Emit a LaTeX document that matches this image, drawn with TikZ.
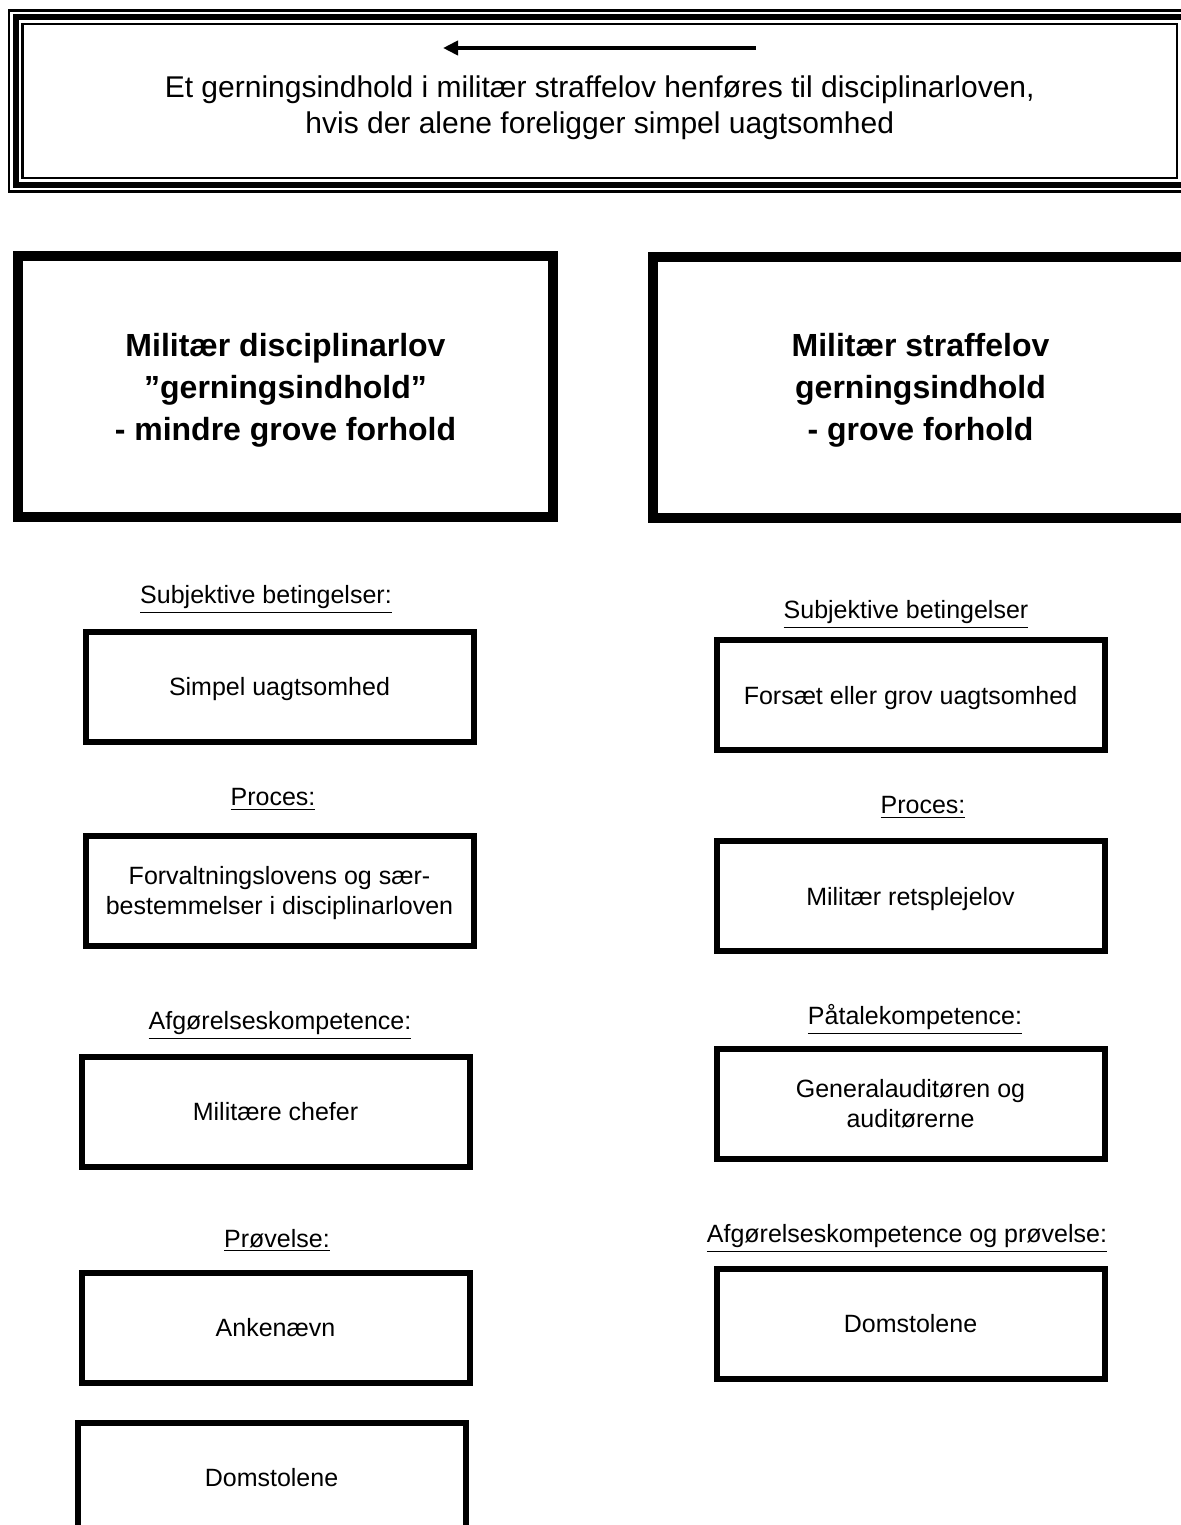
\documentclass[tikz,border=0pt]{standalone}
\usepackage{fontspec}
\setmainfont{Liberation Sans}
\usetikzlibrary{arrows.meta}

\begin{document}
\begin{tikzpicture}[
    x=0.5pt,y=-0.5pt,>=Triangle,
    every node/.style={align=center,inner sep=0pt,outer sep=0pt},
    rulebox/.style={draw,line width=3pt,minimum width=584.25pt,minimum height=84pt,text depth=0pt,font=\fontsize{15}{18}\selectfont},
    thinrule/.style={line width=1.3pt},
    lawbox/.style={draw,line width=5pt,minimum width=267.5pt,minimum height=130.5pt,text depth=0pt,font=\bfseries\fontsize{16}{21}\selectfont},
    itembox/.style={draw,line width=3pt,minimum width=194pt,minimum height=55pt,text depth=0pt,font=\fontsize{12.5}{15}\selectfont},
    heading/.style={yshift=-1.75pt,font=\fontsize{12.5}{15}\selectfont},
    flow/.style={-{Triangle[length=7.5pt,width=7pt]},line width=2pt}
]
\useasboundingbox (0,0) rectangle (1180,1525);

% rule at the top
\node[rulebox] (rule) at (599.75,101) {\rule{0pt}{14.5pt}Et gerningsindhold i militær straffelov henføres til disciplinarloven,\\hvis der alene foreligger simpel uagtsomhed};
\draw[thinrule] ([shift={(-6.5,-6.5)}]rule.north west) rectangle ([shift={(6.5,6.5)}]rule.south east);
\draw[thinrule] ([shift={(7,7)}]rule.north west) rectangle ([shift={(-7,-7)}]rule.south east);
\coordinate (arrowtail) at (756,48);
\coordinate (arrowtip) at (443,48);
\draw[flow] (arrowtail) -- (arrowtip);

% the two laws
\node[lawbox] (minorlaw) at (285.5,386.5) {Militær disciplinarlov\\”gerningsindhold”\\- mindre grove forhold};
\node[lawbox] (majorlaw) at (920.5,387) {Militær straffelov\\gerningsindhold\\- grove forhold};

% disciplinary side
\node[heading] (subjleftlabel) at (266,596) {\underline{Subjektive betingelser:}};
\node[itembox] (subjleft) at (279.5,686.5) {Simpel uagtsomhed};
\node[heading] (procleftlabel) at (273,796) {\underline{Proces:}};
\node[itembox] (procleft) at (279.5,890.5) {Forvaltningslovens og sær-\\bestemmelser i disciplinarloven};
\node[heading] (competleftlabel) at (280,1022) {\underline{Afgørelseskompetence:}};
\node[itembox] (competleft) at (275.5,1111.5) {Militære chefer};
\node[heading] (reviewleftlabel) at (277,1237) {\underline{Prøvelse:}};
\node[itembox] (reviewleft) at (275.5,1327.5) {Ankenævn};
\node[itembox] (courtleft) at (271.5,1477.5) {Domstolene};

% criminal side
\node[heading] (subjrightlabel) at (906,611) {\underline{Subjektive betingelser}};
\node[itembox] (subjright) at (910.5,695) {Forsæt eller grov uagtsomhed};
\node[heading] (procrightlabel) at (923,804) {\underline{Proces:}};
\node[itembox] (procright) at (910.5,896) {Militær retsplejelov};
\node[heading] (prosecrightlabel) at (915,1016) {\underline{Påtalekompetence:}};
\node[itembox] (prosecright) at (910.5,1103.5) {Generalauditøren og\\auditørerne};
\node[heading] (courtrightlabel) at (907,1235) {\underline{Afgørelseskompetence og prøvelse:}};
\node[itembox] (courtright) at (910.5,1323.5) {Domstolene};
\end{tikzpicture}
\end{document}
